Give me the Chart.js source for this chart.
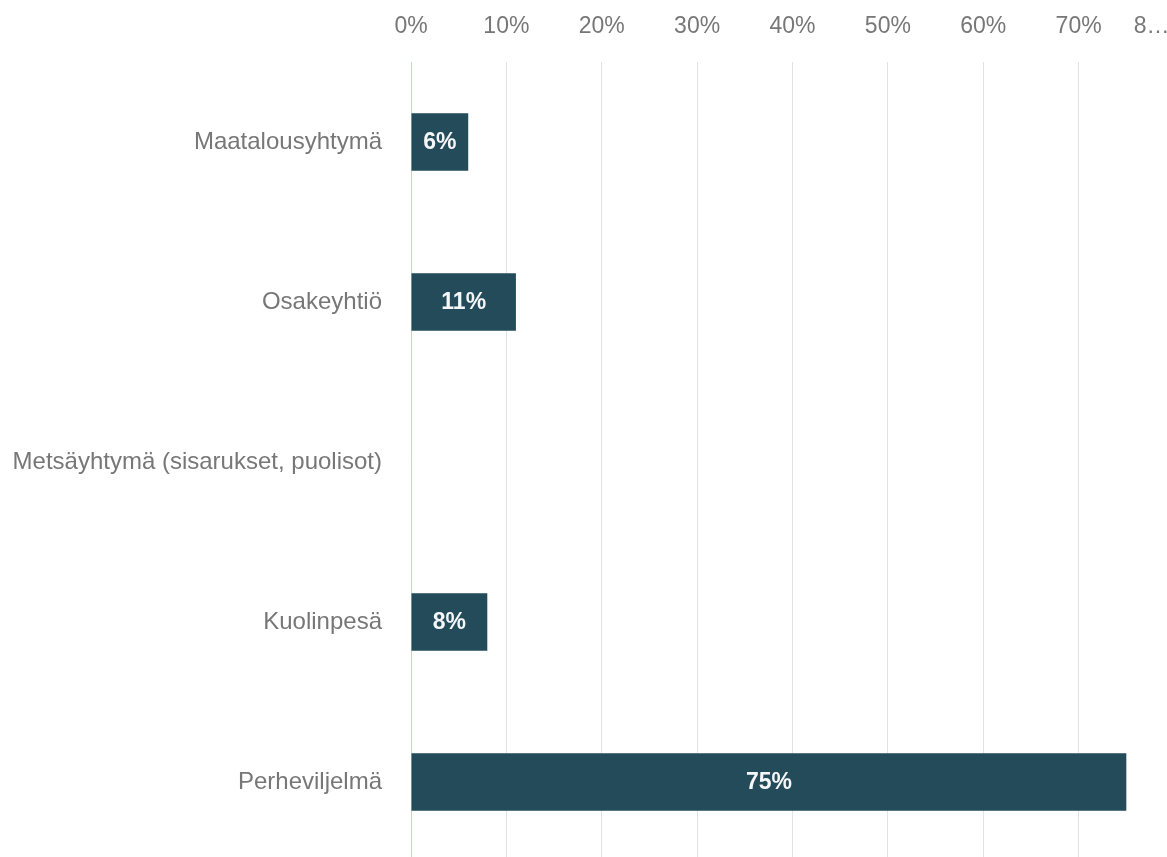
<!DOCTYPE html>
<html lang="fi">
<head>
<meta charset="utf-8">
<title>Omistusmuoto</title>
<script src="https://cdn.jsdelivr.net/npm/chart.js@4/dist/chart.umd.min.js"></script>
<style>
  html, body { margin: 0; padding: 0; background: #fff; overflow: hidden; }
  #wrap { width: 1167px; height: 857px; overflow: hidden; }
</style>
</head>
<body>
<div id="wrap"><canvas id="ownershipChart" width="1180" height="862"></canvas></div>
<script>
const categories = [
    'Maatalousyhtymä',
    'Osakeyhtiö',
    'Metsäyhtymä (sisarukset, puolisot)',
    'Kuolinpesä',
    'Perheviljelmä'
];
const shares = [6, 11, 0, 8, 75];
const tickLabels = ['0%', '10%', '20%', '30%', '40%', '50%', '60%', '70%', '8…'];

const barColor = '#234b59';
const textGray = '#777777';
const fontFamily = '"Liberation Sans", Arial, sans-serif';

// white percentage text in the middle of each bar
const barValueLabels = {
    id: 'barValueLabels',
    afterDatasetsDraw(chart) {
        const ctx = chart.ctx;
        const meta = chart.getDatasetMeta(0);
        ctx.save();
        ctx.fillStyle = '#f4f6f7';
        ctx.font = 'bold 23px ' + fontFamily;
        ctx.textAlign = 'center';
        ctx.textBaseline = 'middle';
        meta.data.forEach(function (bar, i) {
            const v = shares[i];
            if (!v) return;
            const p = bar.getCenterPoint();
            ctx.fillText(v + '%', p.x, p.y + 1);
        });
        ctx.restore();
    }
};

const ctx = document.getElementById('ownershipChart').getContext('2d');

new Chart(ctx, {
    type: 'bar',
    data: {
        labels: categories,
        datasets: [{
            data: shares,
            backgroundColor: barColor,
            borderWidth: 0,
            barPercentage: 0.36,
            categoryPercentage: 1
        }]
    },
    options: {
        indexAxis: 'y',
        responsive: false,
        animation: false,
        layout: { padding: { left: 0, right: 6, top: 0, bottom: 0 } },
        plugins: {
            legend: { display: false },
            tooltip: { enabled: false }
        },
        scales: {
            x: {
                position: 'top',
                min: 0,
                max: 80,
                afterFit: function (scale) {
                    scale.height = 62;
                    scale.paddingLeft = 0;
                    scale.paddingRight = 0;
                },
                grid: { color: '#e2e2e2', lineWidth: 1, drawTicks: false },
                border: { display: false },
                ticks: {
                    stepSize: 10,
                    autoSkip: false,
                    maxRotation: 0,
                    padding: 22,
                    color: textGray,
                    font: { family: fontFamily, size: 23 },
                    callback: function (value, index) {
                        const t = tickLabels[index];
                        // the last label is clipped, shift it left with trailing spaces
                        return index === tickLabels.length - 1 ? t + '\u00a0'.repeat(7) : t;
                    }
                }
            },
            y: {
                afterFit: function (scale) {
                    scale.width = 411;
                    scale.paddingTop = 0;
                    scale.paddingBottom = 0;
                },
                grid: { display: false, drawTicks: false },
                border: { display: true, color: '#c2d1ea', width: 1 },
                ticks: {
                    padding: 29,
                    color: textGray,
                    font: { family: fontFamily, size: 24 }
                }
            }
        }
    },
    plugins: [barValueLabels]
});
</script>
</body>
</html>
